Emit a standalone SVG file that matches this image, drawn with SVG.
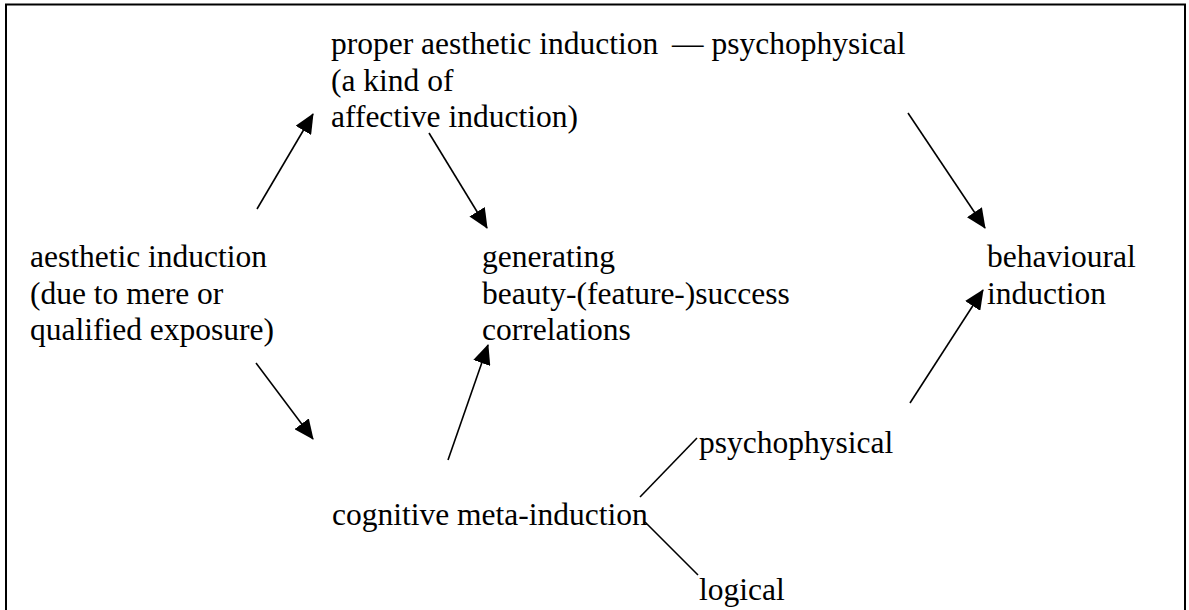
<svg xmlns="http://www.w3.org/2000/svg" width="1189" height="610" viewBox="0 0 1189 610">
<style>
.c{stroke:#000;stroke-width:1.6;fill:none}
</style>
<defs>
<marker id="ah" viewBox="0 0 20 18" refX="19" refY="9" markerWidth="20" markerHeight="18" markerUnits="userSpaceOnUse" orient="auto">
<path d="M0,0 L20,9 L0,18 z" fill="#000"/>
</marker>
</defs>
<rect width="1189" height="610" fill="#fff"/>
<rect x="6" y="4.5" width="1179" height="640" fill="none" stroke="#000" stroke-width="2"/>
<g id="proper">
<text x="331" y="54" font-family="Liberation Serif" font-size="31.5">proper aesthetic induction <tspan dx="6">—</tspan> psychophysical</text>
<text x="331" y="90.5" font-family="Liberation Serif" font-size="31.5">(a kind of</text>
<text x="331" y="127" font-family="Liberation Serif" font-size="31.5">affective induction)</text>
</g>
<g id="aesthetic">
<text x="30" y="267" font-family="Liberation Serif" font-size="31.5">aesthetic induction</text>
<text x="30" y="303.5" font-family="Liberation Serif" font-size="31.5">(due to mere or</text>
<text x="30" y="340" font-family="Liberation Serif" font-size="31.5">qualified exposure)</text>
</g>
<g id="generating">
<text x="482" y="267" font-family="Liberation Serif" font-size="31.5">generating</text>
<text x="482" y="303.5" font-family="Liberation Serif" font-size="31.5">beauty-(feature-)success</text>
<text x="482" y="340" font-family="Liberation Serif" font-size="31.5">correlations</text>
</g>
<g id="behavioural">
<text x="987" y="267" font-family="Liberation Serif" font-size="31.5">behavioural</text>
<text x="987" y="303.5" font-family="Liberation Serif" font-size="31.5">induction</text>
</g>
<g id="cognitive">
<text x="332" y="525" font-family="Liberation Serif" font-size="31.5">cognitive meta-induction</text>
</g>
<g id="psychophysical2">
<text x="699" y="453" font-family="Liberation Serif" font-size="31.5">psychophysical</text>
</g>
<g id="logical">
<text x="699" y="600" font-family="Liberation Serif" font-size="31.5">logical</text>
</g>
<g id="connectors">
<line class="c" x1="257" y1="209" x2="313" y2="114" marker-end="url(#ah)"/>
<line class="c" x1="429" y1="133" x2="487" y2="228" marker-end="url(#ah)"/>
<line class="c" x1="908" y1="113" x2="985" y2="228" marker-end="url(#ah)"/>
<line class="c" x1="910" y1="403" x2="983" y2="290" marker-end="url(#ah)"/>
<line class="c" x1="256" y1="363" x2="313" y2="439" marker-end="url(#ah)"/>
<line class="c" x1="448" y1="460" x2="488" y2="345" marker-end="url(#ah)"/>
<line class="c" x1="640" y1="497" x2="697" y2="438"/>
<line class="c" x1="645" y1="522" x2="698" y2="575"/>
</g>
</svg>
